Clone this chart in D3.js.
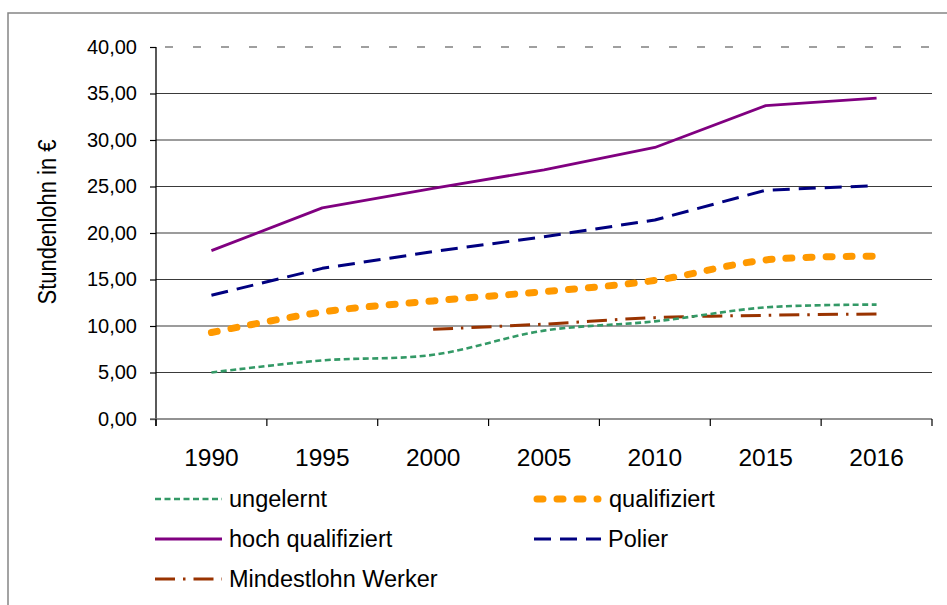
<!DOCTYPE html>
<html>
<head>
<meta charset="utf-8">
<script src="https://cdn.jsdelivr.net/npm/d3@7"></script>
<style>
    body { margin: 0; background: #fff; }
    svg { display: block; font-family: "Liberation Sans", Arial, sans-serif; }
</style>
</head>
<body>
<svg id="chart" width="947" height="605"></svg>
<script>
'use strict';
let years = ["1990", "1995", "2000", "2005", "2010", "2015", "2016"];
let ungelernt = [5.0, 6.3, 6.9, 9.5, 10.5, 12.0, 12.3];
let qualifiziert = [9.3, 11.5, 12.7, 13.7, 14.9, 17.1, 17.5];
let hochQualifiziert = [18.1, 22.7, 24.8, 26.8, 29.2, 33.7, 34.5];
let polier = [13.3, 16.2, 18.0, 19.6, 21.4, 24.6, 25.1];
let mindestlohn = [null, null, 9.65, 10.2, 10.9, 11.15, 11.3];
let yTicks = [0, 5, 10, 15, 20, 25, 30, 35, 40];

let series = [
    {name: "ungelernt", values: ungelernt, color: "#339966", width: 2.6, dash: "6,3.5", cap: "butt", smooth: true},
    {name: "qualifiziert", values: qualifiziert, color: "#FF9900", width: 7, dash: "6,14", cap: "round", smooth: true},
    {name: "hoch qualifiziert", values: hochQualifiziert, color: "#800080", width: 2.8, dash: null, cap: "butt", smooth: false},
    {name: "Polier", values: polier, color: "#000080", width: 3, dash: "17,9", cap: "butt", smooth: false},
    {name: "Mindestlohn Werker", values: mindestlohn, color: "#993300", width: 3, dash: "20,8,2.5,8", cap: "butt", smooth: true}
];
// draw order: back to front
let drawOrder = ["hoch qualifiziert", "Polier", "qualifiziert", "Mindestlohn Werker", "ungelernt"];

let svg = d3.select("#chart"),
    plot = {left: 156, right: 932, top: 47, bottom: 419};

// outer frame, cut at the right and bottom like the picture
svg.append("rect")
    .attr("x", 8).attr("y", 13)
    .attr("width", 1200).attr("height", 1200)
    .attr("fill", "none")
    .attr("stroke", "#858585")
    .attr("stroke-width", 1.5);

let x = d3.scaleBand()
    .domain(years)
    .range([plot.left, plot.right])
    .padding(0);
let cx = d => x(d) + x.bandwidth() / 2;

let y = d3.scaleLinear()
    .domain([0, 40])
    .range([plot.bottom, plot.top]);

// gridlines
svg.append("g")
    .selectAll("line")
    .data(yTicks.filter(t => t > 0))
    .enter().append("line")
    .attr("x1", plot.left).attr("x2", plot.right)
    .attr("y1", d => y(d)).attr("y2", d => y(d))
    .attr("stroke", d => d === 40 ? "#808080" : "#3a3a3a")
    .attr("stroke-width", d => d === 40 ? 1.5 : 1.2)
    .attr("stroke-dasharray", d => d === 40 ? "8,20" : null)
    .attr("stroke-dashoffset", d => d === 40 ? 19 : null);

// y axis
let yAxis = svg.append("g")
    .attr("transform", "translate(" + plot.left + ",0)")
    .call(d3.axisLeft(y).tickValues(yTicks).tickSize(6).tickPadding(13)
        .tickFormat(d => d3.format(".2f")(d).replace(".", ",")));
yAxis.select(".domain").attr("stroke", "#000").attr("stroke-width", 1.3)
    .attr("d", "M0," + plot.top + "V" + (plot.bottom + 7));
yAxis.selectAll(".tick line").attr("stroke", "#000").attr("stroke-width", 1.2);
yAxis.selectAll(".tick text")
    .attr("font-size", "20px")
    .attr("font-family", "Liberation Sans, Arial, sans-serif")
    .attr("fill", "#000");

// x axis
let xAxis = svg.append("g")
    .attr("transform", "translate(0," + plot.bottom + ")")
    .call(d3.axisBottom(x).tickSize(0).tickPadding(30));
xAxis.select(".domain").remove();
xAxis.append("line")
    .attr("x1", plot.left - 6).attr("x2", plot.right)
    .attr("stroke", "#6e6e6e").attr("stroke-width", 1.6);
xAxis.selectAll("line.bound")
    .data(years.map(d => x(d)).concat([plot.right]))
    .enter().append("line")
    .attr("class", "bound")
    .attr("x1", d => d).attr("x2", d => d)
    .attr("y1", 0).attr("y2", 7)
    .attr("stroke", "#000").attr("stroke-width", 1.2);
xAxis.selectAll(".tick text")
    .attr("font-size", "24.5px")
    .attr("font-family", "Liberation Sans, Arial, sans-serif")
    .attr("fill", "#000");

svg.append("text")      // y-axis title
    .attr("transform", "translate(56,222) rotate(-90) scale(1,1.18)")
    .attr("text-anchor", "middle")
    .attr("font-size", "22px")
    .text("Stundenlohn in \u20AC");

let smoothLine = d3.line()
    .defined(d => d.v !== null)
    .curve(d3.curveCatmullRom.alpha(0.5))
    .x(d => cx(d.year))
    .y(d => y(d.v));
let straightLine = d3.line()
    .defined(d => d.v !== null)
    .x(d => cx(d.year))
    .y(d => y(d.v));

let lookup = new Map(series.map(s => [s.name, s]));
svg.append("g")
    .selectAll("path")
    .data(drawOrder.map(n => lookup.get(n)))
    .enter().append("path")
    .attr("fill", "none")
    .attr("stroke", d => d.color)
    .attr("stroke-width", d => d.width)
    .attr("stroke-dasharray", d => d.dash)
    .attr("stroke-linecap", d => d.cap)
    .attr("stroke-linejoin", "round")
    .attr("d", d => (d.smooth ? smoothLine : straightLine)(years.map((yr, i) => ({year: yr, v: d.values[i]}))));

// legend
let legendPos = [
    {x: 155, y: 499}, {x: 534, y: 499},
    {x: 155, y: 539}, {x: 534, y: 539},
    {x: 155, y: 579}
];
let legend = svg.append("g")
    .selectAll("g")
    .data(series)
    .enter().append("g")
    .attr("transform", (d, i) => "translate(" + legendPos[i].x + "," + legendPos[i].y + ")");
legend.append("line")
    .attr("x1", d => d.cap === "round" ? 3 : 0)
    .attr("x2", d => d.cap === "round" ? 64 : 67)
    .attr("stroke", d => d.color)
    .attr("stroke-width", d => d.width)
    .attr("stroke-dasharray", d => d.dash)
    .attr("stroke-linecap", d => d.cap);
legend.append("text")
    .attr("x", d => d.cap === "round" ? 75 : 74)
    .attr("y", 8)
    .attr("font-size", "23.5px")
    .text(d => d.name);
</script>
</body>
</html>
